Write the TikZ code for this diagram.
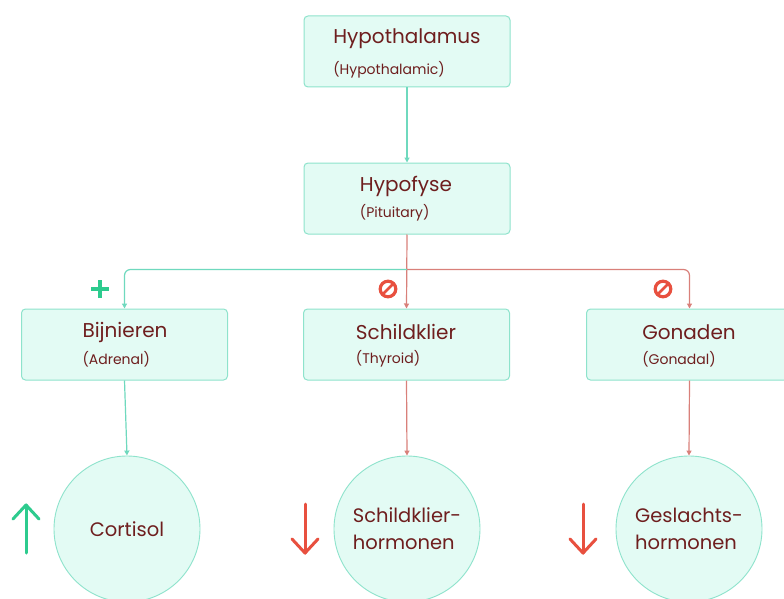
\documentclass[tikz,border=0pt]{standalone}
\usepackage{fontspec}
\setmainfont{Poppins}
\usetikzlibrary{arrows.meta}
\definecolor{boxfill}{HTML}{E3FBF4}
\definecolor{boxdraw}{HTML}{8EE3CC}
\definecolor{tealline}{HTML}{6FD9BE}
\definecolor{redline}{HTML}{D9807A}
\definecolor{upgreen}{HTML}{2DCB8E}
\definecolor{signred}{HTML}{E8503F}
\definecolor{txt}{HTML}{6E1E1E}
\tikzset{
  box/.style={draw=boxdraw, fill=boxfill, line width=1pt, rounded corners=4pt,
    minimum width=206pt, minimum height=71pt, inner sep=0pt},
  circ/.style={circle, draw=boxdraw, fill=boxfill, line width=0.9pt,
    minimum size=146pt, inner sep=0pt, text=txt, align=left,
    font=\fontsize{19.5}{27}\selectfont},
  ttl/.style={text=txt, inner sep=0pt, font=\fontsize{20}{22}\selectfont},
  sub/.style={text=txt, inner sep=0pt, anchor=west, font=\fontsize{14}{16}\selectfont},
  tconn/.style={draw=tealline, line width=1.2pt, -{Triangle[length=5pt,width=5pt]}},
  rconn/.style={draw=redline, line width=1.2pt, -{Triangle[length=5pt,width=5pt]}},
  sign/.style={draw=signred, line width=3.2pt},
  bigarrow/.style={line width=3pt, line cap=round, line join=round},
}
\begin{document}
\begin{tikzpicture}[x=1pt,y=-1pt]
\useasboundingbox (0,0) rectangle (784,599);
\clip (0,0) rectangle (784,599);
\fill[white] (0,0) rectangle (784,599);

% boxes
\node[box] (hyp) at (407,51.5) {};
\node[box] (hypo) at (407,198.5) {};
\node[box] (bij) at (124.5,344.5) {};
\node[box] (schild) at (406.5,344.5) {};
\node[box] (gon) at (689.5,344.5) {};

% box texts
\node[ttl] (hypT) at (407,39) {Hypothalamus};
\node[sub] (hypS) at (hypT.west |- 0,70) {(Hypothalamic)};
\node[ttl] (hypoT) at (406,186) {Hypofyse};
\node[sub] (hypoS) at (hypoT.west |- 0,213) {(Pituitary)};
\node[ttl] (bijT) at (125,332) {Bijnieren};
\node[sub] (bijS) at (bijT.west |- 0,359) {(Adrenal)};
\node[ttl] (schildT) at (406,332) {Schildklier};
\node[sub] (schildS) at (schildT.west |- 0,359) {(Thyroid)};
\node[ttl] (gonT) at (689,332) {Gonaden};
\node[sub] (gonS) at (gonT.west |- 0,359) {(Gonadal)};

% circles
\node[circ] (cort) at (127,529) {Cortisol};
\node[circ] (schh) at (407,529) {Schildklier-\\hormonen};
\node[circ] (gesl) at (689,529) {Geslachts-\\hormonen};

% connectors
\draw[tconn] (hyp.south) -- (hypo.north);
\draw[rconn] (hypo.south) -- (schild.north);
\coordinate (br) at (407,269.5);
\draw[tconn, rounded corners=6pt] (br) -| (bij.north);
\draw[rconn, rounded corners=6pt] (br) -| (gon.north);
\draw[tconn] (bij.south) -- (cort.north);
\draw[rconn] (schild.south) -- (schh.north);
\draw[rconn] (gon.south) -- (gesl.north);

% plus sign
\coordinate (plus) at (100,289);
\draw[upgreen, line width=3.8pt] ([xshift=-9pt]plus) -- ([xshift=9pt]plus)
  ([yshift=-9pt]plus) -- ([yshift=9pt]plus);

% prohibition signs
\foreach \n/\cx in {s1/388, s2/663} {
  \coordinate (\n) at (\cx,289);
  \draw[sign] (\n) circle (7.8pt);
  \draw[sign, line width=2.8pt] ([shift={(-5.5pt,-5.5pt)}]\n) -- ([shift={(5.5pt,5.5pt)}]\n);
}

% big arrows
\coordinate (upA) at (26,505);
\draw[bigarrow, upgreen] (26,553) -- (upA);
\draw[bigarrow, upgreen] (13,519) -- (upA) -- (39,519);
\coordinate (dnA) at (305,553);
\draw[bigarrow, signred] (305,504) -- (dnA);
\draw[bigarrow, signred] (292,539) -- (dnA) -- (318,539);
\coordinate (dnB) at (583,553);
\draw[bigarrow, signred] (583,504) -- (dnB);
\draw[bigarrow, signred] (570,539) -- (dnB) -- (596,539);
\end{tikzpicture}
\end{document}
